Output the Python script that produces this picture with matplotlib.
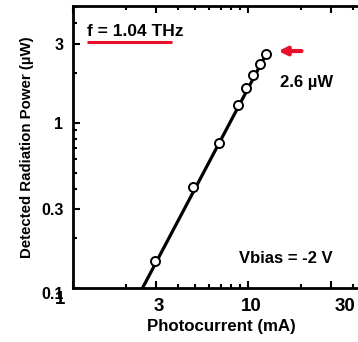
import numpy as np
import matplotlib
matplotlib.use('Agg')
import matplotlib.pyplot as plt
import matplotlib.ticker as mticker
import matplotlib.transforms as mtrans

plt.rcParams['font.family'] = ['Liberation Sans', 'DejaVu Sans']
plt.rcParams['font.weight'] = 'bold'

# measured points
current = [2.94, 4.85, 6.83, 8.77, 9.74, 10.7, 11.7, 12.7]
power = [0.146, 0.41, 0.756, 1.29, 1.63, 1.95, 2.28, 2.62]

# quadratic fit line (P ~ I^2)
fit_current = [2.51, 12.7]
fit_power = [0.101, 2.6]

x_ticks = [1, 3, 10, 30]
y_ticks = [0.1, 0.3, 1, 3]

fig = plt.figure(figsize=(3.58, 3.42), dpi=100)
ax = fig.add_axes([0.204, 0.158, 0.83, 0.8246])

ax.plot(fit_current, fit_power, color='black', lw=2.3, zorder=2)
ax.plot(current, power, 'o', mfc='white', mec='black', mew=1.4, ms=6.5, zorder=3)

ax.set_xscale('log')
ax.set_yscale('log')
ax.set_xlim(1, 50)
ax.set_ylim(0.1, 5.1)

ax.xaxis.set_major_locator(mticker.FixedLocator(x_ticks))
ax.xaxis.set_major_formatter(mticker.FixedFormatter([str(t) for t in x_ticks]))
ax.xaxis.set_minor_locator(mticker.LogLocator(base=10, subs=np.arange(2, 10)))
ax.xaxis.set_minor_formatter(mticker.NullFormatter())
ax.yaxis.set_major_locator(mticker.FixedLocator(y_ticks))
ax.yaxis.set_major_formatter(mticker.FixedFormatter(['0.1', '0.3', '1', '3']))
ax.yaxis.set_minor_locator(mticker.LogLocator(base=10, subs=np.arange(2, 10)))
ax.yaxis.set_minor_formatter(mticker.NullFormatter())

ax.tick_params(which='both', direction='in', top=True, right=False, width=1.5)
ax.tick_params(which='major', length=5)
ax.tick_params(which='minor', length=3)
ax.tick_params(axis='x', labelsize=13.5, pad=7)
ax.tick_params(axis='y', labelsize=11.5, pad=7)

for s in ['left', 'top', 'bottom']:
    ax.spines[s].set_linewidth(2)
ax.spines['right'].set_visible(False)

# odd label offsets in the original
fig.canvas.draw()
labs = ax.get_xticklabels()
labs[0].set_transform(labs[0].get_transform() + mtrans.ScaledTranslation(-0.13, 0.07, fig.dpi_scale_trans))
labs[1].set_transform(labs[1].get_transform() + mtrans.ScaledTranslation(0.02, 0, fig.dpi_scale_trans))
labs[2].set_transform(labs[2].get_transform() + mtrans.ScaledTranslation(0.03, 0, fig.dpi_scale_trans))
labs[3].set_transform(labs[3].get_transform() + mtrans.ScaledTranslation(0.14, 0, fig.dpi_scale_trans))
ylabs = ax.get_yticklabels()
ylabs[0].set_transform(ylabs[0].get_transform() + mtrans.ScaledTranslation(0, -0.05, fig.dpi_scale_trans))

ax.set_xlabel('Photocurrent (mA)', fontsize=12.2, fontweight='bold', labelpad=3)
ax.set_ylabel('Detected Radiation Power (\u00b5W)', fontsize=10.8, fontweight='bold', labelpad=5)

ax.text(1.2, 3.55, 'f = 1.04 THz', fontsize=12.5, fontweight='bold', va='center')
ax.plot([1.2, 3.7], [3.08, 3.08], color='#e8102a', lw=2.2, solid_capstyle='butt')
ax.text(15.2, 1.75, '2.6 \u00b5W', fontsize=12, fontweight='bold', va='center')
ax.annotate('', xy=(14.4, 2.72), xytext=(21.0, 2.72),
            arrowprops=dict(arrowstyle='-|>', color='#e8102a', lw=3, mutation_scale=12))
ax.text(8.9, 0.15, 'Vbias = -2 V', fontsize=12, fontweight='bold', va='center')

fig.savefig('out.png', dpi=100)
